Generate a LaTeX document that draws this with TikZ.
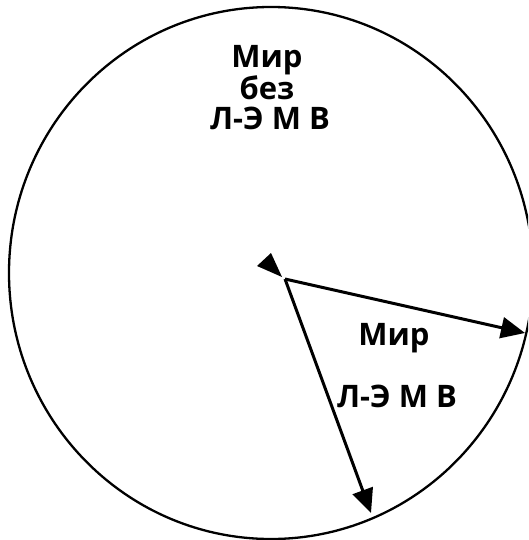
\documentclass[tikz,border=0pt]{standalone}
\usepackage{fontspec}
\setmainfont{Open Sans}
\usetikzlibrary{arrows.meta}
\begin{document}
\begin{tikzpicture}[x=1pt,y=-1pt,
  lbl/.style={font=\bfseries\fontsize{31}{31}\selectfont, anchor=base, inner sep=0pt},
  arr/.style={line width=3pt, -{Triangle[length=24pt,width=21pt]}},
  rim/.style={line width=2.3pt}]
\useasboundingbox (0,0) rectangle (528,540);
\clip (0,0) rectangle (528,540);
\draw[rim] (271,273) ellipse [x radius=262, y radius=266];
% labels
\node[lbl] (t1) at (267,68) {Мир};
\node[lbl] (t2) at (267,100) {без};
\node[lbl] (t3) at (270,130) {Л-Э М В};
\node[lbl] (m1) at (394,345) {Мир};
\node[lbl] (m2) at (397,407) {Л-Э М В};
% connectors
\coordinate (v) at (285,279);
\coordinate (e1) at (525,333);
\coordinate (e2) at (371,513);
\draw[arr] (v) -- (e1);
\draw[arr] (v) -- (e2);
\fill (271,253) -- (257,266) -- (282,277) -- cycle;
\end{tikzpicture}
\end{document}
